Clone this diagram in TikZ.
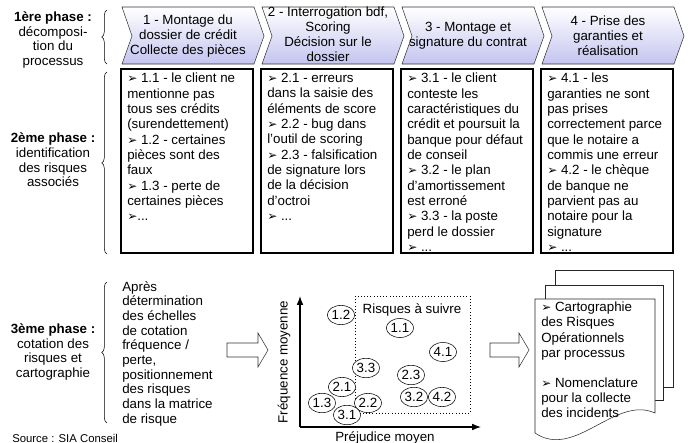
\documentclass[tikz,border=0pt]{standalone}
\usepackage{fontspec}
\setmainfont{Liberation Sans}
\newfontfamily\dingfont{DejaVu Sans}
\usetikzlibrary{shapes.geometric,decorations.pathreplacing,arrows.meta}
\definecolor{chevblue}{RGB}{196,196,240}
\newcommand{\puce}{{\dingfont\fontsize{9}{9}\selectfont ➢}}

\begin{document}
\begin{tikzpicture}[x=0.75pt, y=-0.75pt, >=Latex,
    every node/.style={font=\fontsize{10}{11.3}\selectfont},
    chevron/.style={draw=black!80, top color=white, bottom color=chevblue},
    riskbox/.style={draw=black, line width=0.9pt},
    boxtext/.style={anchor=north west, inner sep=0pt, align=left, font=\fontsize{10}{11.5}\selectfont},
    phase/.style={align=center, font=\fontsize{10}{11}\selectfont},
    accolade/.style={decorate, decoration={brace, amplitude=4pt}, thin},
    blockarrow/.style={draw=black!80, fill=white},
    risk/.style={ellipse, draw, fill=white, inner xsep=0.3pt, inner ysep=1.6pt, font=\fontsize{10}{10}\selectfont},
    page/.style={draw=black!85, fill=white}]
    \useasboundingbox (0,0) rectangle (690,443);

    % Phase labels and braces
    \node[phase] (ph1) at (53,40) {\textbf{1ère phase :}\\décomposi-\\tion du\\processus};
    \node[phase] (ph2) at (53,160) {\textbf{2ème phase :}\\identification\\des risques\\associés};
    \node[phase] (ph3) at (53,352) {\textbf{3ème phase :}\\cotation des\\risques et\\cartographie};
    \draw[accolade] (107,64) -- (107,10);
    \draw[accolade] (107,254) -- (107,72);
    \draw[accolade] (107,423) -- (107,282);

    % Process chevrons
    \foreach \L in {122,262,402,542}
        \draw[chevron] (\L,7) -- ++(132,0) -- ++(10,29) -- ++(-10,28) -- ++(-132,0) -- ++(10,-28) -- cycle;
    \node[align=center] (c1) at (188,36) {1 - Montage du\\dossier de crédit\\Collecte des pièces};
    \node[align=center] (c2) at (328,34) {2 - Interrogation bdf,\\Scoring\\Décision sur le\\dossier};
    \node[align=center] (c3) at (468,36) {3 - Montage et\\signature du contrat};
    \node[align=center] (c4) at (608,36) {4 - Prise des\\garanties et\\réalisation};

    % Risk boxes
    \foreach \L in {121,261,401,541}
        \draw[riskbox] (\L,69) rectangle ++(132,184);
    \node[boxtext] (b1) at (127,73) {\puce{} 1.1 - le client ne\\mentionne pas\\tous ses crédits\\(surendettement)\\\puce{} 1.2 - certaines\\pièces sont des\\faux\\\puce{} 1.3 - perte de\\certaines pièces\\\puce{}...};
    \node[boxtext] (b2) at (267,73) {\puce{} 2.1 - erreurs\\dans la saisie des\\éléments de score\\\puce{} 2.2 - bug dans\\l'outil de scoring\\\puce{} 2.3 - falsification\\de signature lors\\de la décision\\d'octroi\\\puce{} ...};
    \node[boxtext] (b3) at (407,73) {\puce{} 3.1 - le client\\conteste les\\caractéristiques du\\crédit et poursuit la\\banque pour défaut\\de conseil\\\puce{} 3.2 - le plan\\d'amortissement\\est erroné\\\puce{} 3.3 - la poste\\perd le dossier\\\puce{} ...};
    \node[boxtext] (b4) at (547,73) {\puce{} 4.1 - les\\garanties ne sont\\pas prises\\correctement parce\\que le notaire a\\commis une erreur\\\puce{} 4.2 - le chèque\\de banque ne\\parvient pas au\\notaire pour la\\signature\\\puce{} ...};

    % Third phase
    \node[boxtext, font=\fontsize{10}{11}\selectfont] (cotation) at (122,281) {Après\\détermination\\des échelles\\de cotation\\fréquence /\\perte,\\positionnement\\des risques\\dans la matrice\\de risque};
    \draw[blockarrow] (227,343) -- (258,343) -- (258,333) -- (268,350) -- (258,367) -- (258,357) -- (227,357) -- cycle;

    % Risk matrix
    \coordinate (O) at (300,427);
    \coordinate (ytop) at (300,296);
    \coordinate (xend) at (481,427);
    \draw[->, line width=0.8pt] (O) -- (ytop);
    \draw[->, line width=0.8pt] (O) -- (xend);
    \node[rotate=90] (ylab) at (284,362) {Fréquence moyenne};
    \node (xlab) at (385,438) {Préjudice moyen};
    \draw[dotted, thin] (355,296) rectangle (470,413);
    \node (suivre) at (412,310) {Risques à suivre};
    \node[risk] (r12) at (341,315) {1.2};
    \node[risk] (r11) at (400,328) {1.1};
    \node[risk] (r41) at (443,352) {4.1};
    \node[risk] (r33) at (366,368) {3.3};
    \node[risk] (r23) at (411,375) {2.3};
    \node[risk] (r21) at (342,387) {2.1};
    \node[risk] (r13) at (322,403) {1.3};
    \node[risk] (r22) at (368,403) {2.2};
    \node[risk] (r32) at (414,397) {3.2};
    \node[risk] (r42) at (442,397) {4.2};
    \node[risk] (r31) at (347,415) {3.1};

    \draw[blockarrow] (490,343) -- (519,343) -- (519,333) -- (529,350) -- (519,367) -- (519,357) -- (490,357) -- cycle;

    % Output documents
    \draw[page] (555,270) rectangle (673,387);
    \draw[page] (545,285) rectangle (663,400);
    \draw[page] (535,299) -- (655,299) -- (655,413) .. controls (615,395) and (575,460) .. (535,433) -- cycle;
    \node[boxtext, font=\fontsize{10}{11.3}\selectfont] (doc) at (541,302) {\puce{} Cartographie\\des Risques\\Opérationnels\\par processus\\[11.3pt]\puce{} Nomenclature\\pour la collecte\\des incidents};

    \node[anchor=south west, inner sep=0pt, font=\fontsize{8.5}{10}\selectfont] (source) at (12,442.5) {Source : SIA Conseil};
\end{tikzpicture}
\end{document}
